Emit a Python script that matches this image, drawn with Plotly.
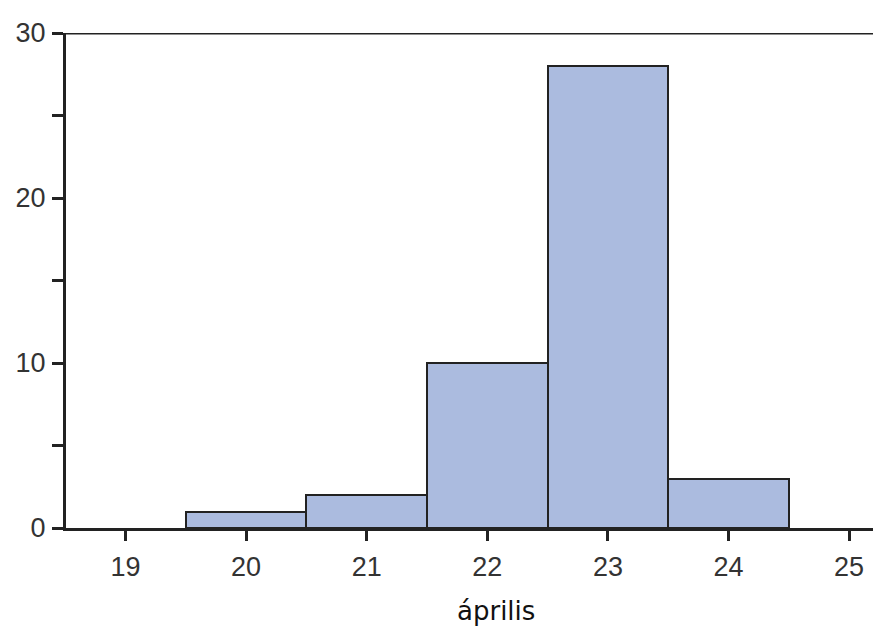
import plotly.graph_objects as go

days = [20, 21, 22, 23, 24]
counts = [1, 2, 10, 28, 3]
x_ticks = [19, 20, 21, 22, 23, 24, 25]
y_ticks = [0, 5, 10, 15, 20, 25, 30]
y_labels = ["0", "", "10", "", "20", "", "30"]
x_title = "április"

fig = go.Figure()
fig.add_trace(go.Bar(
    x=days, y=counts, width=1,
    marker=dict(color="#abbbdf", line=dict(color="#222222", width=2)),
))

# page body has an 8px default margin, so the figure is offset by 8px
fig.update_layout(
    width=873, height=620,
    margin=dict(l=58, r=1, t=25, b=100),
    paper_bgcolor="white", plot_bgcolor="white",
    showlegend=False,
    bargap=0,
    font=dict(family="Liberation Sans, Arial", size=27, color="#333333"),
)
fig.update_xaxes(
    range=[18.507, 25.256],
    tickvals=x_ticks, ticktext=[str(v) for v in x_ticks],
    ticks="outside", ticklen=10, tickwidth=3, tickcolor="#222222",
    showline=True, linewidth=3, linecolor="#222222",
    showgrid=False, zeroline=False,
    ticklabelstandoff=3,
)
fig.update_yaxes(
    range=[0, 30],
    tickvals=y_ticks, ticktext=y_labels,
    ticks="outside", ticklen=11, tickwidth=3, tickcolor="#222222",
    showline=True, linewidth=3, linecolor="#222222",
    showgrid=False, zeroline=False,
    ticklabelstandoff=1,
)
fig.add_shape(type="line", xref="paper", yref="y", x0=0, x1=1, y0=30, y1=30,
              line=dict(color="#222222", width=3))
fig.add_annotation(text=x_title, xref="paper", yref="paper", x=0.528, y=0,
                   yshift=-66, yanchor="top", showarrow=False,
                   font=dict(family="DejaVu Sans", size=26, color="#111111"))

fig.write_html("out.html")
